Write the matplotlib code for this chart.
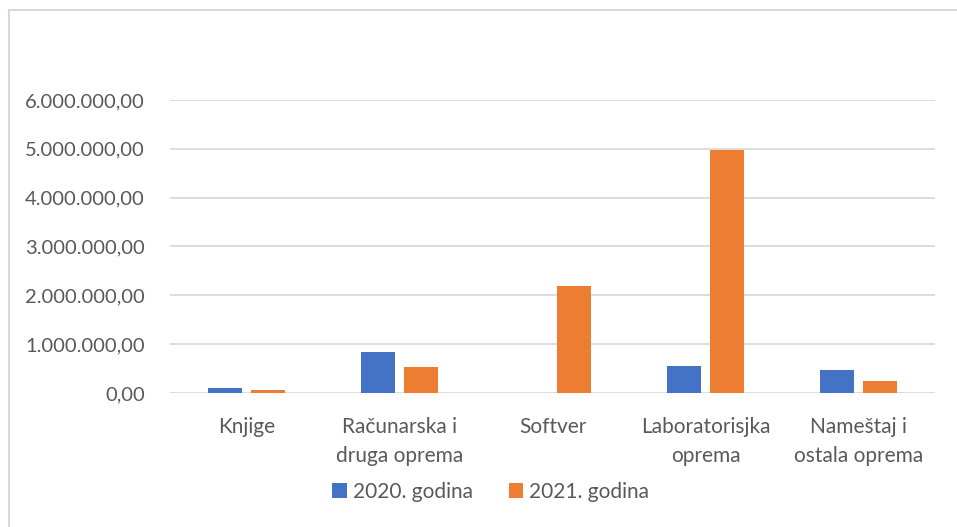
import numpy as np
import matplotlib
matplotlib.use("Agg")
import matplotlib.pyplot as plt
from matplotlib.lines import Line2D
from matplotlib.ticker import FuncFormatter

plt.rcParams['font.family'] = ['Lato', 'DejaVu Sans']

# data
categories = ["Knjige", "Računarska i\ndruga oprema", "Softver",
              "Laboratorisjka\noprema", "Nameštaj i\nostala oprema"]
series_names = ["2020. godina", "2021. godina"]
vals_2020 = [110000, 847000, 0, 560000, 480000]
vals_2021 = [55000, 532000, 2190000, 4980000, 245000]
y_ticks = [0, 1000000, 2000000, 3000000, 4000000, 5000000, 6000000]

blue = "#4472C4"
orange = "#ED7D31"
txt = "#595959"

fig = plt.figure(figsize=(9.57, 5.27), dpi=100)
ax = fig.add_axes([170/957, 1-393/527, (935-170)/957, (393-100)/527])

x = np.arange(len(categories))
w = 0.219
gap = 0.065
ax.bar(x - (w+gap)/2, vals_2020, w, color=blue, label=series_names[0], zorder=3)
ax.bar(x + (w+gap)/2, vals_2021, w, color=orange, label=series_names[1], zorder=3)

ax.set_xlim(-0.5, len(categories)-0.5)
ax.set_ylim(0, 6000000)
ax.set_yticks(y_ticks)

def fmt(v, pos):
    s = f"{int(v):,}".replace(",", ".")
    return s + ",00"
ax.yaxis.set_major_formatter(FuncFormatter(fmt))
ax.grid(axis='y', color="#D9D9D9", linewidth=1.3, zorder=0)
ax.set_xticks(x)
ax.set_xticklabels(categories, linespacing=1.6)
ax.tick_params(axis='both', length=0, colors=txt)
ax.tick_params(axis='x', pad=17, labelsize=15)
ax.tick_params(axis='y', pad=18, labelsize=14.5)
for s in ax.spines.values():
    s.set_visible(False)

leg = fig.legend(loc='center', bbox_to_anchor=(0.513, 1-492/527), ncol=2,
                 frameon=False, fontsize=15, handlelength=0.7, handleheight=0.7,
                 handletextpad=0.3, columnspacing=1.7)
for t in leg.get_texts():
    t.set_color(txt)

# chart border
fig.add_artist(Line2D([9/957, 1], [1-10/527, 1-10/527], color="#D9D9D9", lw=1.5))
fig.add_artist(Line2D([9/957, 9/957], [0, 1-10/527], color="#D9D9D9", lw=1.5))

fig.savefig("out.png", dpi=100)
